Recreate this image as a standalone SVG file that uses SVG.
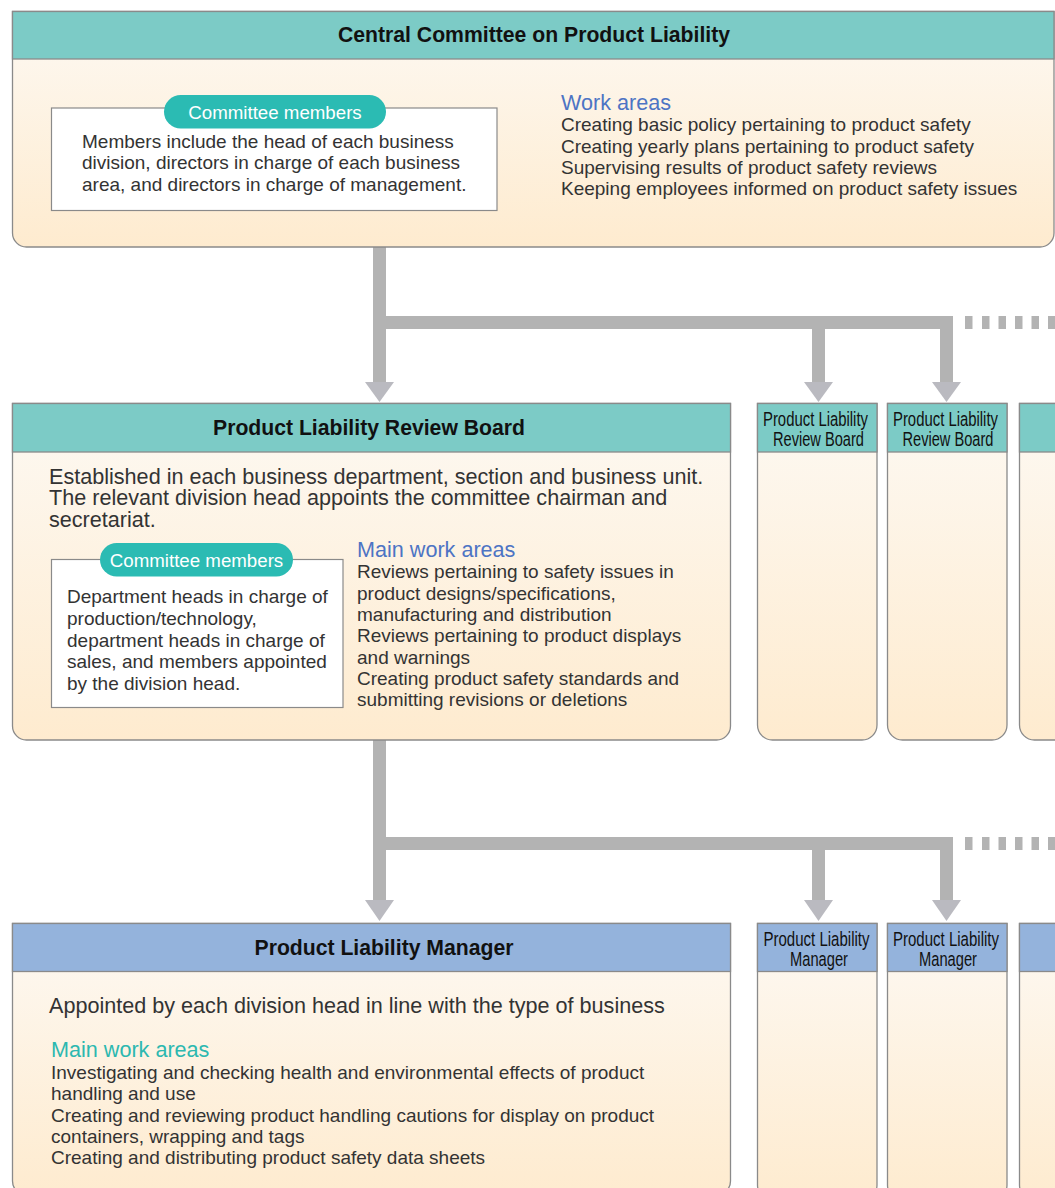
<svg xmlns="http://www.w3.org/2000/svg" width="1055" height="1188" viewBox="0 0 1055 1188">
<defs>
<linearGradient id="bodyGrad" x1="0" y1="0" x2="0" y2="1">
<stop offset="0" stop-color="#fdf9f3"/>
<stop offset="1" stop-color="#feebcf"/>
</linearGradient>
<style>
.box{fill:url(#bodyGrad);stroke:#8a8a8a;stroke-width:1.3}
.hdT{fill:#7ccbc6;stroke:#8a8a8a;stroke-width:1.3}
.hdB{fill:#94b3dc;stroke:#8a8a8a;stroke-width:1.3}
.inner{fill:#ffffff;stroke:#8a8a8a;stroke-width:1.2}
.pill{fill:#2bbbb3}
.pillT{font-family:"Liberation Sans",Arial,sans-serif;font-size:18.7px;fill:#ffffff;text-anchor:middle}
.title{font-family:"Liberation Sans",Arial,sans-serif;font-size:21.2px;font-weight:bold;fill:#111;text-anchor:middle}
.t{font-family:"Liberation Sans",Arial,sans-serif;font-size:19px;fill:#333}
.tl{font-family:"Liberation Sans",Arial,sans-serif;font-size:21.6px;fill:#333}
.blue{font-family:"Liberation Sans",Arial,sans-serif;font-size:21.6px;fill:#4d74c4}
.teal{font-family:"Liberation Sans",Arial,sans-serif;font-size:21.6px;fill:#2cb8b0}
.sm{font-family:"Liberation Sans Narrow","Liberation Sans",Arial,sans-serif;font-size:20.5px;fill:#111;text-anchor:middle}
.bar{fill:#b3b3b3}
.head{fill:#babac0}
</style>
</defs>

<g id="connectors">
<rect class="bar" x="373" y="246" width="13" height="137"/>
<rect class="bar" x="373" y="316" width="580" height="13"/>
<rect class="bar" x="812" y="316" width="13" height="67"/>
<rect class="bar" x="940" y="316" width="13" height="67"/>
<polygon class="head" points="365,382 394,382 379.5,402"/>
<polygon class="head" points="804,382 833,382 818.5,402"/>
<polygon class="head" points="932,382 961,382 946.5,402"/>
<g class="bar">
<rect x="965" y="316" width="7.5" height="13"/>
<rect x="982" y="316" width="7.5" height="13"/>
<rect x="998.5" y="316" width="7.5" height="13"/>
<rect x="1015" y="316" width="7.5" height="13"/>
<rect x="1031.5" y="316" width="7.5" height="13"/>
<rect x="1048" y="316" width="7.5" height="13"/>
</g>
<rect class="bar" x="373" y="739" width="13" height="162"/>
<rect class="bar" x="373" y="837" width="580" height="13"/>
<rect class="bar" x="812" y="837" width="13" height="64"/>
<rect class="bar" x="940" y="837" width="13" height="64"/>
<polygon class="head" points="365,900 394,900 379.5,921"/>
<polygon class="head" points="804,900 833,900 818.5,921"/>
<polygon class="head" points="932,900 961,900 946.5,921"/>
<g class="bar">
<rect x="965" y="837" width="7.5" height="13"/>
<rect x="982" y="837" width="7.5" height="13"/>
<rect x="998.5" y="837" width="7.5" height="13"/>
<rect x="1015" y="837" width="7.5" height="13"/>
<rect x="1031.5" y="837" width="7.5" height="13"/>
<rect x="1048" y="837" width="7.5" height="13"/>
</g>
</g>

<g id="central-committee">
<path class="box" d="M12.5 11.5 H1054 V233 A14 14 0 0 1 1040 247 H26.5 A14 14 0 0 1 12.5 233 Z"/>
<rect class="hdT" x="12.5" y="11.5" width="1041.5" height="47.5"/>
<text class="title" x="534" y="42">Central Committee on Product Liability</text>
<rect class="inner" x="51.5" y="108" width="445.5" height="102.5"/>
<rect class="pill" x="164" y="95" width="222" height="33.5" rx="16.75"/>
<text class="pillT" x="275" y="118.5">Committee members</text>
<text class="t" x="82" y="148">Members include the head of each business</text>
<text class="t" x="82" y="169">division, directors in charge of each business</text>
<text class="t" x="82" y="191">area, and directors in charge of management.</text>
<text class="blue" x="561" y="110">Work areas</text>
<text class="t" x="561" y="131">Creating basic policy pertaining to product safety</text>
<text class="t" x="561" y="152.5">Creating yearly plans pertaining to product safety</text>
<text class="t" x="561" y="174">Supervising results of product safety reviews</text>
<text class="t" x="561" y="195">Keeping employees informed on product safety issues</text>
</g>

<g id="review-board">
<path class="box" d="M12.5 403.5 H730.5 V726 A14 14 0 0 1 716.5 740 H26.5 A14 14 0 0 1 12.5 726 Z"/>
<rect class="hdT" x="12.5" y="403.5" width="718" height="48.5"/>
<text class="title" x="369" y="435">Product Liability Review Board</text>
<text class="tl" x="49" y="484">Established in each business department, section and business unit.</text>
<text class="tl" x="49" y="505">The relevant division head appoints the committee chairman and</text>
<text class="tl" x="49" y="527">secretariat.</text>
<rect class="inner" x="51.5" y="559.5" width="291.5" height="148"/>
<rect class="pill" x="100" y="543" width="193" height="33.5" rx="16.75"/>
<text class="pillT" x="196.5" y="566.5">Committee members</text>
<text class="t" x="67" y="603">Department heads in charge of</text>
<text class="t" x="67" y="625">production/technology,</text>
<text class="t" x="67" y="646.5">department heads in charge of</text>
<text class="t" x="67" y="668">sales, and members appointed</text>
<text class="t" x="67" y="690">by the division head.</text>
<text class="blue" x="357" y="557">Main work areas</text>
<text class="t" x="357" y="578">Reviews pertaining to safety issues in</text>
<text class="t" x="357" y="599.5">product designs/specifications,</text>
<text class="t" x="357" y="621">manufacturing and distribution</text>
<text class="t" x="357" y="642">Reviews pertaining to product displays</text>
<text class="t" x="357" y="664">and warnings</text>
<text class="t" x="357" y="685">Creating product safety standards and</text>
<text class="t" x="357" y="706">submitting revisions or deletions</text>
</g>

<g id="review-board-2">
<path class="box" d="M757.5 403.5 H877 V725 A15 15 0 0 1 862 740 H772.5 A15 15 0 0 1 757.5 725 Z"/>
<rect class="hdT" x="757.5" y="403.5" width="119.5" height="48.5"/>
<text class="sm" x="815.5" y="426" textLength="105" lengthAdjust="spacingAndGlyphs">Product Liability</text>
<text class="sm" x="818.5" y="446" textLength="91" lengthAdjust="spacingAndGlyphs">Review Board</text>
</g>
<g id="review-board-3">
<path class="box" d="M887.5 403.5 H1007 V725 A15 15 0 0 1 992 740 H902.5 A15 15 0 0 1 887.5 725 Z"/>
<rect class="hdT" x="887.5" y="403.5" width="119.5" height="48.5"/>
<text class="sm" x="945.5" y="426" textLength="105" lengthAdjust="spacingAndGlyphs">Product Liability</text>
<text class="sm" x="948" y="446" textLength="91" lengthAdjust="spacingAndGlyphs">Review Board</text>
</g>
<g id="review-board-4">
<path class="box" d="M1019.5 403.5 H1139 V725 A15 15 0 0 1 1124 740 H1034.5 A15 15 0 0 1 1019.5 725 Z"/>
<rect class="hdT" x="1019.5" y="403.5" width="119.5" height="48.5"/>
</g>

<g id="pl-manager">
<path class="box" d="M12.5 923.5 H730.5 V1181 A14 14 0 0 1 716.5 1195 H26.5 A14 14 0 0 1 12.5 1181 Z"/>
<rect class="hdB" x="12.5" y="923.5" width="718" height="48"/>
<text class="title" x="384" y="955">Product Liability Manager</text>
<text class="tl" x="49" y="1013">Appointed by each division head in line with the type of business</text>
<text class="teal" x="51" y="1057">Main work areas</text>
<text class="t" x="51" y="1079">Investigating and checking health and environmental effects of product</text>
<text class="t" x="51" y="1100">handling and use</text>
<text class="t" x="51" y="1121.5">Creating and reviewing product handling cautions for display on product</text>
<text class="t" x="51" y="1143">containers, wrapping and tags</text>
<text class="t" x="51" y="1164">Creating and distributing product safety data sheets</text>
</g>

<g id="pl-manager-2">
<path class="box" d="M757.5 923.5 H877 V1185 A15 15 0 0 1 862 1200 H772.5 A15 15 0 0 1 757.5 1185 Z"/>
<rect class="hdB" x="757.5" y="923.5" width="119.5" height="48"/>
<text class="sm" x="816.5" y="946" textLength="106" lengthAdjust="spacingAndGlyphs">Product Liability</text>
<text class="sm" x="819" y="966" textLength="58" lengthAdjust="spacingAndGlyphs">Manager</text>
</g>
<g id="pl-manager-3">
<path class="box" d="M887.5 923.5 H1007 V1185 A15 15 0 0 1 992 1200 H902.5 A15 15 0 0 1 887.5 1185 Z"/>
<rect class="hdB" x="887.5" y="923.5" width="119.5" height="48"/>
<text class="sm" x="946" y="946" textLength="106" lengthAdjust="spacingAndGlyphs">Product Liability</text>
<text class="sm" x="948" y="966" textLength="58" lengthAdjust="spacingAndGlyphs">Manager</text>
</g>
<g id="pl-manager-4">
<path class="box" d="M1019.5 923.5 H1139 V1185 A15 15 0 0 1 1124 1200 H1034.5 A15 15 0 0 1 1019.5 1185 Z"/>
<rect class="hdB" x="1019.5" y="923.5" width="119.5" height="48"/>
</g>
</svg>
